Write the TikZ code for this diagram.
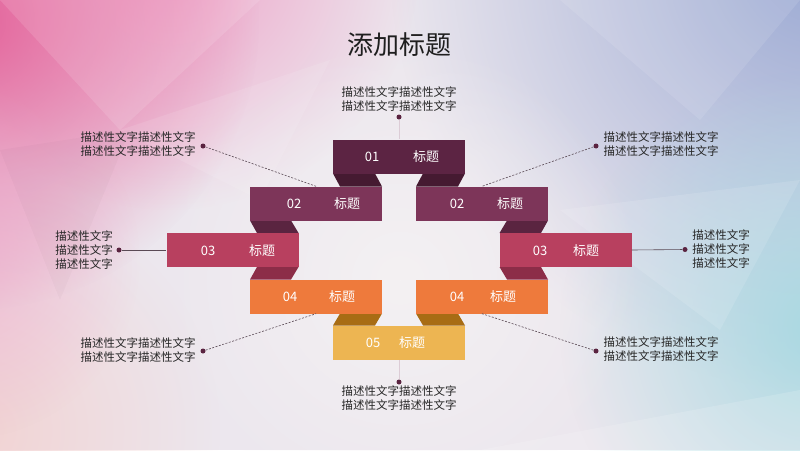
\documentclass[tikz,border=0pt]{standalone}
\usepackage{fontspec}
\newfontfamily\cjk{Noto Sans CJK SC}
\usetikzlibrary{fadings}
\tikzfading[name=softfade, inner color=transparent!0, outer color=transparent!100]
\definecolor{bgbase}{HTML}{ECE7EE}
\definecolor{pinkA}{HTML}{E4629A}
\definecolor{pinkB}{HTML}{EFA3C8}
\definecolor{lavA}{HTML}{9AA9D3}
\definecolor{tealA}{HTML}{A9D9E2}
\definecolor{peachA}{HTML}{F2D3D3}
\definecolor{centerA}{HTML}{F4F1F3}
\definecolor{cA}{HTML}{5C2443}
\definecolor{cB}{HTML}{7D3559}
\definecolor{cC}{HTML}{B8405F}
\definecolor{cD}{HTML}{EE7A3C}
\definecolor{cE}{HTML}{EDB552}
\definecolor{fA}{HTML}{451A31}
\definecolor{fB}{HTML}{5A2440}
\definecolor{fC}{HTML}{8C2D48}
\definecolor{fD}{HTML}{A86C14}
\definecolor{desc}{HTML}{262626}
\definecolor{dotc}{HTML}{5A2340}
\definecolor{linec}{HTML}{5A4A55}
\definecolor{faint}{HTML}{DCCCD6}
\begin{document}
\begin{tikzpicture}[x=1pt,y=-1pt,
  box/.style={minimum width=132pt, minimum height=34pt, inner sep=0pt, draw=none},
  btxt/.style={text=white, font=\cjk\fontsize{13}{13}\selectfont, inner sep=0pt},
  desc/.style={text=desc, font=\cjk\fontsize{11.5}{14}\selectfont, align=center, inner sep=0pt},
  dotn/.style={circle, fill=dotc, minimum size=5pt, inner sep=0pt},
  dashl/.style={draw=linec, line width=0.6pt, dash pattern=on 2pt off 1.5pt},
  solidl/.style={draw=linec, line width=0.6pt},
  faintl/.style={draw=faint, line width=0.6pt}]
\useasboundingbox (0,0) rectangle (800,450);
% background
\fill[bgbase] (0,0) rectangle (800,450);
\fill[lavA, path fading=softfade] (820,-40) circle (430pt);
\fill[tealA, path fading=softfade] (820,330) circle (260pt);
\fill[peachA, path fading=softfade] (-20,430) circle (240pt);
\fill[pinkB, path fading=softfade] (170,-40) circle (250pt);
\fill[pinkA, path fading=softfade] (-30,20) circle (290pt);
\fill[pinkB, opacity=0.6, path fading=softfade] (-40,260) circle (180pt);
\fill[centerA, path fading=softfade] (400,280) circle (240pt);
\fill[white, opacity=0.12] (0,0) -- (260,0) -- (120,130) -- cycle;
\fill[white, opacity=0.10] (120,130) -- (330,60) -- (260,200) -- cycle;
\fill[white, opacity=0.10] (560,0) -- (800,0) -- (700,120) -- cycle;
\fill[white, opacity=0.12] (560,210) -- (800,180) -- (720,330) -- cycle;
\fill[black, opacity=0.02] (0,150) -- (130,130) -- (60,300) -- cycle;
\fill[white, opacity=0.15] (480,450) -- (800,390) -- (800,450) -- cycle;
% title
\node[text=black!88, font=\cjk\fontsize{26}{26}\selectfont, inner sep=0pt] (title) at (399,45) {添加标题};
% folds (left)
\fill[fA] (333,173.5) -- (375,173.5) -- (382,186.5) -- (340,186.5) -- cycle;
\fill[fB] (250,220.5) -- (291,220.5) -- (298.5,233) -- (257,233) -- cycle;
\fill[fC] (257,267) -- (298.5,267) -- (291,279.5) -- (250,279.5) -- cycle;
\fill[fD] (340,313.5) -- (382,313.5) -- (375,325.5) -- (333,325.5) -- cycle;
% folds (right)
\fill[fA] (465,173.5) -- (423,173.5) -- (416,186.5) -- (458,186.5) -- cycle;
\fill[fB] (548,220.5) -- (507,220.5) -- (499.5,233) -- (541,233) -- cycle;
\fill[fC] (541,267) -- (499.5,267) -- (507,279.5) -- (548,279.5) -- cycle;
\fill[fD] (458,313.5) -- (416,313.5) -- (423,325.5) -- (465,325.5) -- cycle;
% boxes
\node[box, fill=cA] (b1) at (399,156.5) {};
\node[box, fill=cB] (b2l) at (316,203.5) {};
\node[box, fill=cB] (b2r) at (482,203.5) {};
\node[box, fill=cC] (b3l) at (232.5,250) {};
\node[box, fill=cC] (b3r) at (565.5,250) {};
\node[box, fill=cD] (b4l) at (316,296.5) {};
\node[box, fill=cD] (b4r) at (482,296.5) {};
\node[box, fill=cE] (b5) at (399,342.5) {};
% box texts
\node[btxt] (n1) at (372,157) {01};
\node[btxt] (t1) at (426,157) {标题};
\node[btxt] (n2l) at (294,204) {02};
\node[btxt] (t2l) at (347,204) {标题};
\node[btxt] (n2r) at (457,204) {02};
\node[btxt] (t2r) at (510,204) {标题};
\node[btxt] (n3l) at (208,250.5) {03};
\node[btxt] (t3l) at (262,250.5) {标题};
\node[btxt] (n3r) at (540,250.5) {03};
\node[btxt] (t3r) at (586,250.5) {标题};
\node[btxt] (n4l) at (290,297) {04};
\node[btxt] (t4l) at (342,297) {标题};
\node[btxt] (n4r) at (457,297) {04};
\node[btxt] (t4r) at (503,297) {标题};
\node[btxt] (n5) at (373,343) {05};
\node[btxt] (t5) at (412,343) {标题};
% descriptions
\node[desc] (dtop) at (399,99) {描述性文字描述性文字\\描述性文字描述性文字};
\node[desc] (dtl) at (138,144.5) {描述性文字描述性文字\\描述性文字描述性文字};
\node[desc] (dtr) at (661,144.5) {描述性文字描述性文字\\描述性文字描述性文字};
\node[desc] (dl) at (84,250) {描述性文字\\描述性文字\\描述性文字};
\node[desc] (dr) at (721,249.5) {描述性文字\\描述性文字\\描述性文字};
\node[desc] (dbl) at (138,350.5) {描述性文字描述性文字\\描述性文字描述性文字};
\node[desc] (dbr) at (661,349.5) {描述性文字描述性文字\\描述性文字描述性文字};
\node[desc] (dbot) at (399,398) {描述性文字描述性文字\\描述性文字描述性文字};
% dots
\node[dotn] (ptop) at (399,117) {};
\node[dotn] (ptl) at (203,146) {};
\node[dotn] (ptr) at (596,146) {};
\node[dotn] (pl) at (119,250) {};
\node[dotn] (pr) at (685,249.5) {};
\node[dotn] (pbl) at (203,351) {};
\node[dotn] (pbr) at (596,351) {};
\node[dotn] (pbot) at (399,382) {};
% connectors
\draw[faintl] (ptop) -- (b1.north);
\draw[faintl] (pbot) -- (b5.south);
\draw[dashl] (ptl) -- (b2l.north);
\draw[dashl] (ptr) -- (b2r.north);
\draw[solidl] (pl) -- (b3l.west);
\draw[solidl] (pr) -- (b3r.east);
\draw[dashl] (pbl) -- (b4l.south);
\draw[dashl] (pbr) -- (b4r.south);
\end{tikzpicture}
\end{document}
